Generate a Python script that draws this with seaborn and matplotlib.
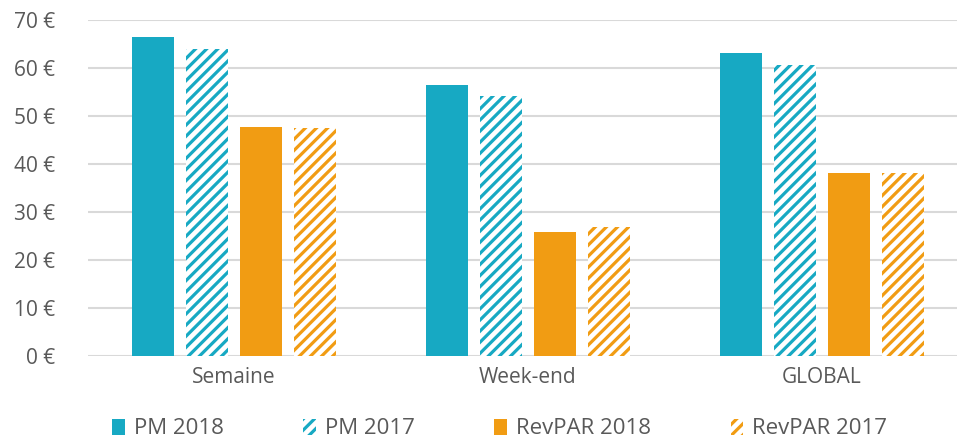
import matplotlib
matplotlib.use("Agg")
import matplotlib.pyplot as plt
import matplotlib.patches as mpatches
from matplotlib.ticker import FuncFormatter
import seaborn as sns
import pandas as pd

categories = ["Semaine", "Week-end", "GLOBAL"]
series = ["PM 2018", "PM 2017", "RevPAR 2018", "RevPAR 2017"]
pm_2018 = [66.5, 56.5, 63.1]
pm_2017 = [64.0, 54.2, 60.6]
revpar_2018 = [47.8, 25.9, 38.2]
revpar_2017 = [47.5, 26.8, 38.2]

TEAL = "#17A9C3"
ORANGE = "#F19C13"
TEXT = "#595959"
GRID = "#D9D9D9"

colors = [TEAL, TEAL, ORANGE, ORANGE]
hatched = [False, True, False, True]

rows = []
for s, vals in zip(series, [pm_2018, pm_2017, revpar_2018, revpar_2017]):
    for c, v in zip(categories, vals):
        rows.append({"cat": c, "series": s, "value": v})
df = pd.DataFrame(rows)

sns.set_style("white")
plt.rcParams["font.family"] = ["Open Sans", "DejaVu Sans"]
plt.rcParams["hatch.linewidth"] = 2.3

fig = plt.figure(figsize=(9.57, 4.41), dpi=100)
ax = fig.add_axes([88 / 957, 1 - 356 / 441, 1 - 88 / 957, (356 - 20) / 441])

sns.barplot(data=df, x="cat", y="value", hue="series", order=categories,
            hue_order=series, palette=colors, width=0.736, gap=0.22,
            legend=False, ax=ax, zorder=3)

n_cat = len(categories)
for i, patch in enumerate(ax.patches):
    si = i // n_cat
    if si >= len(series):
        break
    col = colors[si]
    if hatched[si]:
        patch.set_facecolor("white")
        patch.set_edgecolor(col)
        patch.set_hatch("///")
        patch.set_linewidth(0)
    else:
        patch.set_facecolor(col)
        patch.set_edgecolor(col)
        patch.set_linewidth(0)

ax.set_ylim(0, 70)
ax.set_xlim(-0.497, 2.46)
ax.set_yticks(range(0, 71, 10))
ax.yaxis.set_major_formatter(FuncFormatter(lambda v, p: f"{int(v)} €"))
ax.grid(axis="y", color=GRID, linewidth=1.5, zorder=0)
ax.set_axisbelow(True)
for sp in ax.spines.values():
    sp.set_visible(False)
ax.tick_params(axis="both", length=0, colors=TEXT, labelsize=15)
ax.tick_params(axis="y", pad=24)
ax.tick_params(axis="x", pad=8)
ax.set_xlabel("")
ax.set_ylabel("")

handles = []
for s, col, h in zip(series, colors, hatched):
    if h:
        handles.append(mpatches.Patch(facecolor="white", edgecolor=col, hatch="///", linewidth=0, label=s))
    else:
        handles.append(mpatches.Patch(facecolor=col, edgecolor=col, linewidth=0, label=s))

fig.legend(handles=handles, loc="center", bbox_to_anchor=(0.522, 1 - 429 / 441), ncol=4,
           frameon=False, fontsize=16, labelcolor=TEXT, handlelength=0.55,
           handleheight=0.75, handletextpad=0.4, columnspacing=3.6)

fig.savefig("out.png", dpi=100)
